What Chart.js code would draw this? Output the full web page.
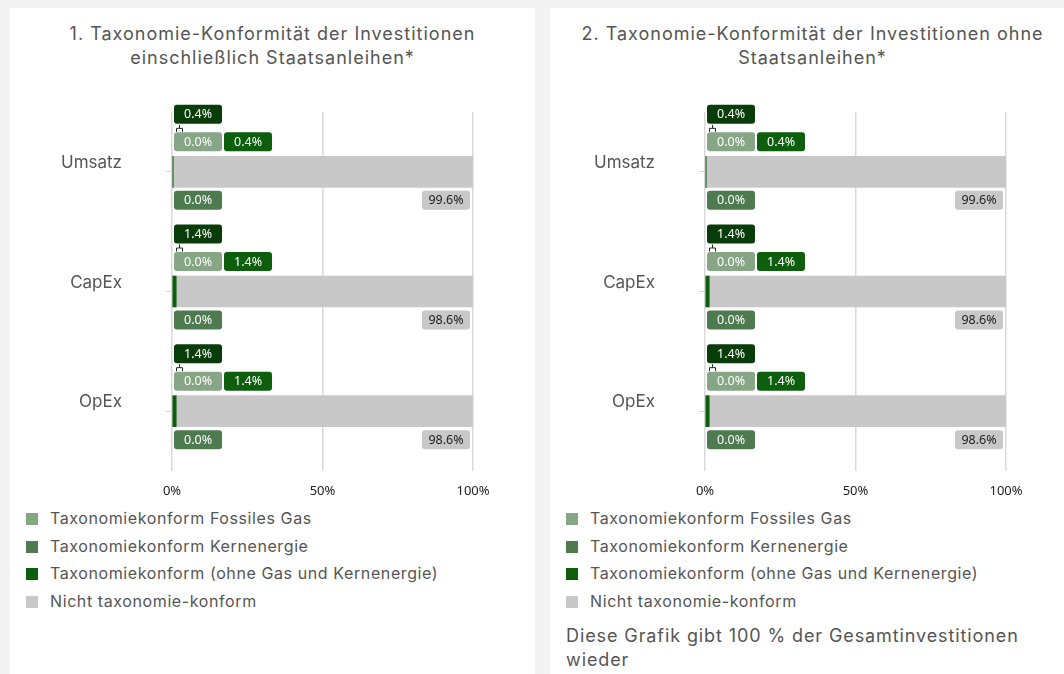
<!DOCTYPE html>
<html>
<head>
<meta charset="utf-8">
<script src="https://cdn.jsdelivr.net/npm/chart.js@4.4.1/dist/chart.umd.min.js"></script>
<style>
  body { margin: 0; width: 1064px; height: 674px; overflow: hidden; background: #f2f2f2; position: relative; font-family: Inter, Roboto, sans-serif; color: #555; }
  .card { position: absolute; top: 8px; width: 525px; height: 700px; background: #fff; }
  .title { position: absolute; top: 14px; left: 0; width: 100%; text-align: center; font-size: 18px; line-height: 24px; letter-spacing: 1px; }
  .card canvas { position: absolute; top: 87px; left: 0; }
  .legend { position: absolute; top: 497px; left: 16px; margin: 0; padding: 0; list-style: none; font-size: 16px; letter-spacing: 0.6px; }
  .legend li { height: 27.7px; line-height: 27.7px; white-space: nowrap; }
  .legend span { display: inline-block; width: 12px; height: 12px; margin-right: 12px; vertical-align: -1px; }
  .note { position: absolute; top: 616px; left: 16px; font-size: 18px; line-height: 24px; letter-spacing: 0.9px; width: 500px; }
</style>
</head>
<body>
<div class="card" style="left:10px">
  <div class="title">1. Taxonomie-Konformität der Investitionen<br>einschließlich Staatsanleihen*</div>
  <canvas id="chart1" width="525" height="410"></canvas>
  <ul class="legend" id="legend1"></ul>
</div>
<div class="card" style="left:550px">
  <div class="title">2. Taxonomie-Konformität der Investitionen ohne<br>Staatsanleihen*</div>
  <canvas id="chart2" width="525" height="410"></canvas>
  <ul class="legend" id="legend2"></ul>
  <div class="note">Diese Grafik gibt 100 % der Gesamtinvestitionen<br>wieder</div>
</div>
<script>
var categories = ['Umsatz', 'CapEx', 'OpEx'];
var seriesNames = ['Taxonomiekonform Fossiles Gas', 'Taxonomiekonform Kernenergie', 'Taxonomiekonform (ohne Gas und Kernenergie)', 'Nicht taxonomie-konform'];
var seriesColors = ['#86a686', '#4e7a50', '#0d5e0d', '#c8c8c8'];
var totalColor = '#083c08';
var xTicks = [0, 50, 100];

// Chart 1: einschließlich Staatsanleihen
var gas1 = [0.0, 0.0, 0.0];
var nuclear1 = [0.0, 0.0, 0.0];
var other1 = [0.4, 1.4, 1.4];
var notAligned1 = [99.6, 98.6, 98.6];

// Chart 2: ohne Staatsanleihen
var gas2 = [0.0, 0.0, 0.0];
var nuclear2 = [0.0, 0.0, 0.0];
var other2 = [0.4, 1.4, 1.4];
var notAligned2 = [99.6, 98.6, 98.6];

function roundRect(ctx, x, y, w, h, r) {
  ctx.beginPath();
  ctx.moveTo(x + r, y);
  ctx.lineTo(x + w - r, y);
  ctx.quadraticCurveTo(x + w, y, x + w, y + r);
  ctx.lineTo(x + w, y + h - r);
  ctx.quadraticCurveTo(x + w, y + h, x + w - r, y + h);
  ctx.lineTo(x + r, y + h);
  ctx.quadraticCurveTo(x, y + h, x, y + h - r);
  ctx.lineTo(x, y + r);
  ctx.quadraticCurveTo(x, y, x + r, y);
  ctx.closePath();
}

function box(ctx, x0, yc, text, bg, fg) {
  var w = 48, h = 19;
  ctx.fillStyle = bg;
  roundRect(ctx, x0, yc - h / 2, w, h, 3);
  ctx.fill();
  ctx.fillStyle = fg;
  ctx.font = '12.5px "Noto Sans", "Open Sans", sans-serif';
  ctx.textAlign = 'center';
  ctx.textBaseline = 'middle';
  ctx.fillText(text, x0 + w / 2, yc + 0.5);
}

var labelPlugin = {
  id: 'boxLabels',
  afterDatasetsDraw: function(chart) {
    var ctx = chart.ctx;
    var ds = chart.data.datasets;
    ctx.save();
    for (var i = 0; i < chart.data.labels.length; i++) {
      var gasBar = chart.getDatasetMeta(0).data[i];
      var nonBar = chart.getDatasetMeta(3).data[i];
      var start = gasBar.base;
      var yc = gasBar.y;
      var total = ds[0].data[i] + ds[1].data[i] + ds[2].data[i];
      box(ctx, start + 2, yc - 57.5, total.toFixed(1) + '%', totalColor, '#fff');
      // bracket
      ctx.strokeStyle = '#1a2a1a';
      ctx.lineWidth = 1;
      ctx.beginPath();
      ctx.moveTo(start + 4.5, yc - 40);
      ctx.lineTo(start + 4.5, yc - 43.5);
      ctx.lineTo(start + 10.5, yc - 43.5);
      ctx.lineTo(start + 10.5, yc - 40);
      ctx.moveTo(start + 7.5, yc - 43.5);
      ctx.lineTo(start + 7.5, yc - 47);
      ctx.stroke();
      box(ctx, start + 2, yc - 30, ds[0].data[i].toFixed(1) + '%', seriesColors[0], '#fff');
      box(ctx, start + 52, yc - 30, ds[2].data[i].toFixed(1) + '%', seriesColors[2], '#fff');
      box(ctx, start + 2, yc + 28.5, ds[1].data[i].toFixed(1) + '%', seriesColors[1], '#fff');
      box(ctx, nonBar.x - 51, yc + 28.5, ds[3].data[i].toFixed(1) + '%', seriesColors[3], '#222');
    }
    ctx.restore();
  }
};

function makeChart(id, gas, nuclear, other, notAligned, axisWidth, rightPad) {
  var values = [gas, nuclear, other, notAligned];
  return new Chart(id, {
    type: 'bar',
    data: {
      labels: categories,
      datasets: values.map(function(v, k) {
        return { label: seriesNames[k], data: v, backgroundColor: seriesColors[k], borderWidth: 0, barThickness: 31 };
      })
    },
    options: {
      indexAxis: 'y',
      responsive: false,
      animation: false,
      devicePixelRatio: 1,
      layout: { padding: { top: 17, right: rightPad, left: 0, bottom: 0 } },
      plugins: { legend: { display: false }, tooltip: { enabled: false } },
      scales: {
        x: {
          stacked: true, min: 0, max: 100,
          afterBuildTicks: function(scale) { scale.ticks = xTicks.map(function(v) { return { value: v }; }); },
          ticks: { callback: function(v) { return v + '%'; }, color: '#222', padding: 12, font: { family: '"Noto Sans", sans-serif', size: 13 } },
          grid: { color: '#d9d9d9', lineWidth: 1.5, drawTicks: false },
          border: { display: false },
          afterFit: function(scale) { scale.height = 34; }
        },
        y: {
          stacked: true,
          ticks: { color: '#555', padding: 44, labelOffset: -9, font: { family: 'Inter, Roboto, sans-serif', size: 17 } },
          grid: { drawOnChartArea: false, drawTicks: true, tickLength: 6, color: '#d9d9d9', offset: false },
          border: { display: false },
          afterFit: function(scale) {
            scale.width = axisWidth;
            scale.paddingTop = 0;
            scale.paddingBottom = 0;
          }
        }
      }
    },
    plugins: [labelPlugin]
  });
}

function makeLegend(id) {
  var ul = document.getElementById(id);
  seriesNames.forEach(function(name, k) {
    var li = document.createElement('li');
    li.innerHTML = '<span style="background:' + seriesColors[k] + '"></span>' + name;
    ul.appendChild(li);
  });
}

makeChart('chart1', gas1, nuclear1, other1, notAligned1, 162, 62);
makeChart('chart2', gas2, nuclear2, other2, notAligned2, 155, 69);
makeLegend('legend1');
makeLegend('legend2');
</script>
</body>
</html>
